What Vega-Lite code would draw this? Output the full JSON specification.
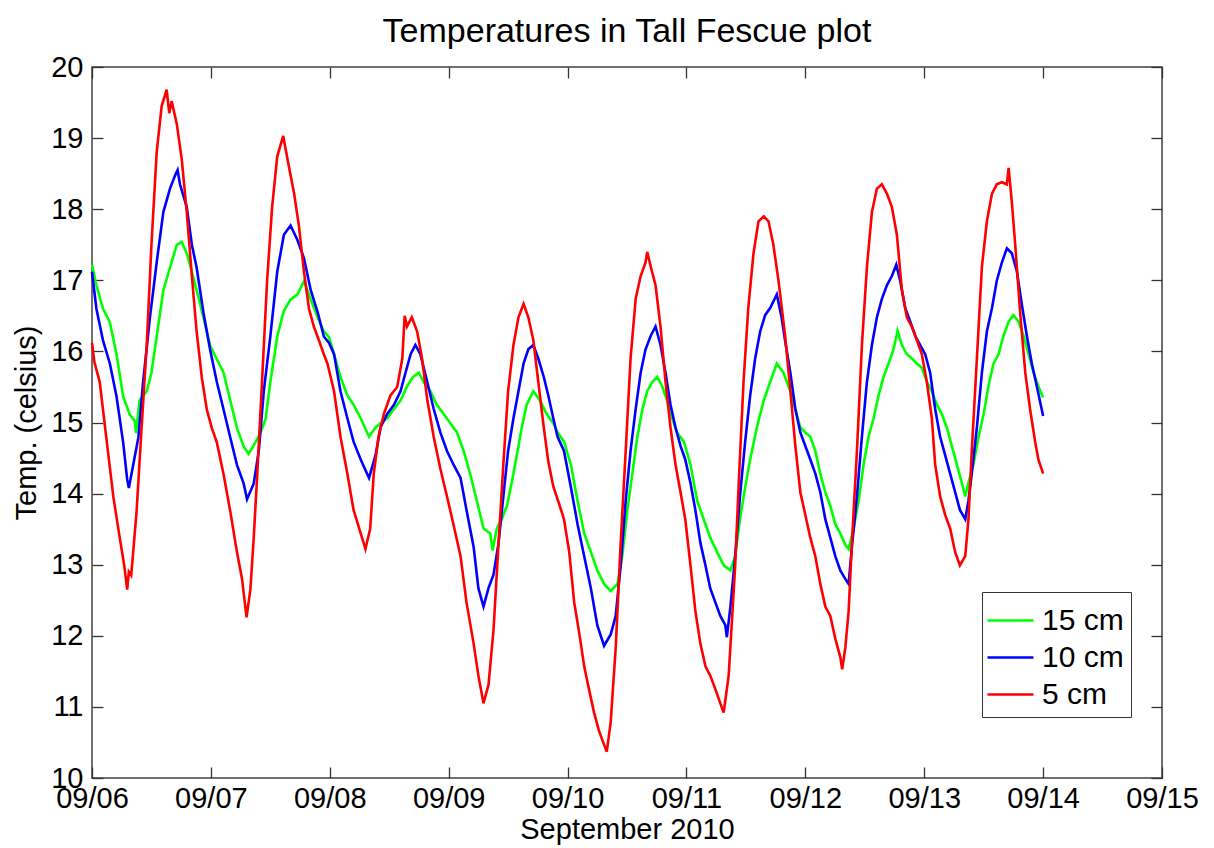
{
  "$schema": "https://vega.github.io/schema/vega-lite/v6.json",
  "width": 1070,
  "height": 711,
  "autosize": "none",
  "padding": {"left": 92, "top": 67, "right": 52, "bottom": 70},
  "background": "white",
  "config": {
    "font": "Liberation Sans",
    "view": {"stroke": "#404040", "strokeWidth": 1.5}
  },
  "title": {
    "text": "Temperatures in Tall Fescue plot",
    "font": "Liberation Sans",
    "fontSize": 34,
    "fontWeight": "normal",
    "color": "black",
    "anchor": "middle",
    "offset": 4
  },
  "data": {
    "values": [
      {"day": 6.000, "depth": "15 cm", "temp": 17.22}, {"day": 6.037, "depth": "15 cm", "temp": 16.93}, {"day": 6.093, "depth": "15 cm", "temp": 16.60},
      {"day": 6.150, "depth": "15 cm", "temp": 16.41}, {"day": 6.206, "depth": "15 cm", "temp": 15.96}, {"day": 6.262, "depth": "15 cm", "temp": 15.37},
      {"day": 6.318, "depth": "15 cm", "temp": 15.11}, {"day": 6.360, "depth": "15 cm", "temp": 15.02}, {"day": 6.370, "depth": "15 cm", "temp": 14.85},
      {"day": 6.400, "depth": "15 cm", "temp": 15.31}, {"day": 6.460, "depth": "15 cm", "temp": 15.44}, {"day": 6.500, "depth": "15 cm", "temp": 15.70},
      {"day": 6.544, "depth": "15 cm", "temp": 16.21}, {"day": 6.600, "depth": "15 cm", "temp": 16.86}, {"day": 6.656, "depth": "15 cm", "temp": 17.18},
      {"day": 6.713, "depth": "15 cm", "temp": 17.50}, {"day": 6.755, "depth": "15 cm", "temp": 17.54}, {"day": 6.797, "depth": "15 cm", "temp": 17.38},
      {"day": 6.840, "depth": "15 cm", "temp": 17.12}, {"day": 6.880, "depth": "15 cm", "temp": 16.86}, {"day": 6.938, "depth": "15 cm", "temp": 16.47},
      {"day": 6.994, "depth": "15 cm", "temp": 16.08}, {"day": 7.050, "depth": "15 cm", "temp": 15.89}, {"day": 7.107, "depth": "15 cm", "temp": 15.70},
      {"day": 7.163, "depth": "15 cm", "temp": 15.31}, {"day": 7.220, "depth": "15 cm", "temp": 14.92}, {"day": 7.276, "depth": "15 cm", "temp": 14.66},
      {"day": 7.318, "depth": "15 cm", "temp": 14.56}, {"day": 7.374, "depth": "15 cm", "temp": 14.72}, {"day": 7.416, "depth": "15 cm", "temp": 14.85},
      {"day": 7.460, "depth": "15 cm", "temp": 15.05}, {"day": 7.500, "depth": "15 cm", "temp": 15.57}, {"day": 7.558, "depth": "15 cm", "temp": 16.21},
      {"day": 7.614, "depth": "15 cm", "temp": 16.57}, {"day": 7.670, "depth": "15 cm", "temp": 16.73}, {"day": 7.727, "depth": "15 cm", "temp": 16.80},
      {"day": 7.783, "depth": "15 cm", "temp": 16.99}, {"day": 7.840, "depth": "15 cm", "temp": 16.73}, {"day": 7.900, "depth": "15 cm", "temp": 16.47},
      {"day": 7.950, "depth": "15 cm", "temp": 16.28}, {"day": 7.994, "depth": "15 cm", "temp": 16.20}, {"day": 8.036, "depth": "15 cm", "temp": 15.96},
      {"day": 8.090, "depth": "15 cm", "temp": 15.64}, {"day": 8.148, "depth": "15 cm", "temp": 15.38}, {"day": 8.200, "depth": "15 cm", "temp": 15.25},
      {"day": 8.260, "depth": "15 cm", "temp": 15.06}, {"day": 8.330, "depth": "15 cm", "temp": 14.80}, {"day": 8.385, "depth": "15 cm", "temp": 14.93},
      {"day": 8.427, "depth": "15 cm", "temp": 14.99}, {"day": 8.483, "depth": "15 cm", "temp": 15.06}, {"day": 8.540, "depth": "15 cm", "temp": 15.19},
      {"day": 8.595, "depth": "15 cm", "temp": 15.31}, {"day": 8.650, "depth": "15 cm", "temp": 15.51}, {"day": 8.700, "depth": "15 cm", "temp": 15.64},
      {"day": 8.750, "depth": "15 cm", "temp": 15.70}, {"day": 8.790, "depth": "15 cm", "temp": 15.57}, {"day": 8.846, "depth": "15 cm", "temp": 15.44},
      {"day": 8.900, "depth": "15 cm", "temp": 15.25}, {"day": 8.958, "depth": "15 cm", "temp": 15.12}, {"day": 9.014, "depth": "15 cm", "temp": 14.99},
      {"day": 9.070, "depth": "15 cm", "temp": 14.86}, {"day": 9.126, "depth": "15 cm", "temp": 14.60}, {"day": 9.180, "depth": "15 cm", "temp": 14.28},
      {"day": 9.237, "depth": "15 cm", "temp": 13.90}, {"day": 9.293, "depth": "15 cm", "temp": 13.51}, {"day": 9.350, "depth": "15 cm", "temp": 13.44},
      {"day": 9.370, "depth": "15 cm", "temp": 13.20}, {"day": 9.405, "depth": "15 cm", "temp": 13.51}, {"day": 9.447, "depth": "15 cm", "temp": 13.64},
      {"day": 9.490, "depth": "15 cm", "temp": 13.83}, {"day": 9.530, "depth": "15 cm", "temp": 14.15}, {"day": 9.573, "depth": "15 cm", "temp": 14.54},
      {"day": 9.615, "depth": "15 cm", "temp": 14.93}, {"day": 9.656, "depth": "15 cm", "temp": 15.25}, {"day": 9.712, "depth": "15 cm", "temp": 15.44},
      {"day": 9.768, "depth": "15 cm", "temp": 15.31}, {"day": 9.824, "depth": "15 cm", "temp": 15.12}, {"day": 9.880, "depth": "15 cm", "temp": 14.99},
      {"day": 9.916, "depth": "15 cm", "temp": 14.86}, {"day": 9.970, "depth": "15 cm", "temp": 14.73}, {"day": 10.028, "depth": "15 cm", "temp": 14.41},
      {"day": 10.084, "depth": "15 cm", "temp": 13.90}, {"day": 10.140, "depth": "15 cm", "temp": 13.44}, {"day": 10.196, "depth": "15 cm", "temp": 13.18},
      {"day": 10.250, "depth": "15 cm", "temp": 12.92}, {"day": 10.307, "depth": "15 cm", "temp": 12.73}, {"day": 10.363, "depth": "15 cm", "temp": 12.63},
      {"day": 10.420, "depth": "15 cm", "temp": 12.73}, {"day": 10.460, "depth": "15 cm", "temp": 13.12}, {"day": 10.503, "depth": "15 cm", "temp": 13.77},
      {"day": 10.545, "depth": "15 cm", "temp": 14.28}, {"day": 10.587, "depth": "15 cm", "temp": 14.80}, {"day": 10.630, "depth": "15 cm", "temp": 15.19},
      {"day": 10.670, "depth": "15 cm", "temp": 15.44}, {"day": 10.712, "depth": "15 cm", "temp": 15.57}, {"day": 10.754, "depth": "15 cm", "temp": 15.64},
      {"day": 10.796, "depth": "15 cm", "temp": 15.51}, {"day": 10.838, "depth": "15 cm", "temp": 15.31}, {"day": 10.880, "depth": "15 cm", "temp": 15.06},
      {"day": 10.920, "depth": "15 cm", "temp": 14.86}, {"day": 10.978, "depth": "15 cm", "temp": 14.73}, {"day": 11.034, "depth": "15 cm", "temp": 14.41},
      {"day": 11.090, "depth": "15 cm", "temp": 13.90}, {"day": 11.145, "depth": "15 cm", "temp": 13.64}, {"day": 11.200, "depth": "15 cm", "temp": 13.38},
      {"day": 11.257, "depth": "15 cm", "temp": 13.18}, {"day": 11.313, "depth": "15 cm", "temp": 12.99}, {"day": 11.370, "depth": "15 cm", "temp": 12.92},
      {"day": 11.410, "depth": "15 cm", "temp": 13.12}, {"day": 11.450, "depth": "15 cm", "temp": 13.64}, {"day": 11.494, "depth": "15 cm", "temp": 14.09},
      {"day": 11.536, "depth": "15 cm", "temp": 14.48}, {"day": 11.592, "depth": "15 cm", "temp": 14.93}, {"day": 11.650, "depth": "15 cm", "temp": 15.31},
      {"day": 11.704, "depth": "15 cm", "temp": 15.57}, {"day": 11.760, "depth": "15 cm", "temp": 15.83}, {"day": 11.816, "depth": "15 cm", "temp": 15.70},
      {"day": 11.874, "depth": "15 cm", "temp": 15.44}, {"day": 11.916, "depth": "15 cm", "temp": 15.19}, {"day": 11.958, "depth": "15 cm", "temp": 14.93},
      {"day": 12.000, "depth": "15 cm", "temp": 14.86}, {"day": 12.042, "depth": "15 cm", "temp": 14.80}, {"day": 12.084, "depth": "15 cm", "temp": 14.60},
      {"day": 12.126, "depth": "15 cm", "temp": 14.28}, {"day": 12.168, "depth": "15 cm", "temp": 14.02}, {"day": 12.210, "depth": "15 cm", "temp": 13.83},
      {"day": 12.252, "depth": "15 cm", "temp": 13.57}, {"day": 12.294, "depth": "15 cm", "temp": 13.44}, {"day": 12.336, "depth": "15 cm", "temp": 13.28},
      {"day": 12.364, "depth": "15 cm", "temp": 13.22}, {"day": 12.406, "depth": "15 cm", "temp": 13.51}, {"day": 12.448, "depth": "15 cm", "temp": 13.90},
      {"day": 12.490, "depth": "15 cm", "temp": 14.41}, {"day": 12.532, "depth": "15 cm", "temp": 14.80}, {"day": 12.574, "depth": "15 cm", "temp": 15.06},
      {"day": 12.616, "depth": "15 cm", "temp": 15.38}, {"day": 12.658, "depth": "15 cm", "temp": 15.64}, {"day": 12.700, "depth": "15 cm", "temp": 15.83},
      {"day": 12.742, "depth": "15 cm", "temp": 16.03}, {"day": 12.776, "depth": "15 cm", "temp": 16.29}, {"day": 12.812, "depth": "15 cm", "temp": 16.09},
      {"day": 12.854, "depth": "15 cm", "temp": 15.96}, {"day": 12.896, "depth": "15 cm", "temp": 15.90}, {"day": 12.938, "depth": "15 cm", "temp": 15.83},
      {"day": 12.980, "depth": "15 cm", "temp": 15.77}, {"day": 13.022, "depth": "15 cm", "temp": 15.57}, {"day": 13.064, "depth": "15 cm", "temp": 15.44},
      {"day": 13.106, "depth": "15 cm", "temp": 15.25}, {"day": 13.148, "depth": "15 cm", "temp": 15.12}, {"day": 13.190, "depth": "15 cm", "temp": 14.93},
      {"day": 13.232, "depth": "15 cm", "temp": 14.67}, {"day": 13.274, "depth": "15 cm", "temp": 14.41}, {"day": 13.316, "depth": "15 cm", "temp": 14.15},
      {"day": 13.345, "depth": "15 cm", "temp": 13.96}, {"day": 13.372, "depth": "15 cm", "temp": 14.15}, {"day": 13.414, "depth": "15 cm", "temp": 14.41},
      {"day": 13.457, "depth": "15 cm", "temp": 14.80}, {"day": 13.500, "depth": "15 cm", "temp": 15.12}, {"day": 13.540, "depth": "15 cm", "temp": 15.51},
      {"day": 13.583, "depth": "15 cm", "temp": 15.83}, {"day": 13.625, "depth": "15 cm", "temp": 15.96}, {"day": 13.667, "depth": "15 cm", "temp": 16.22},
      {"day": 13.710, "depth": "15 cm", "temp": 16.42}, {"day": 13.750, "depth": "15 cm", "temp": 16.51}, {"day": 13.793, "depth": "15 cm", "temp": 16.42},
      {"day": 13.835, "depth": "15 cm", "temp": 16.22}, {"day": 13.877, "depth": "15 cm", "temp": 15.96}, {"day": 13.920, "depth": "15 cm", "temp": 15.70},
      {"day": 13.960, "depth": "15 cm", "temp": 15.51}, {"day": 14.000, "depth": "15 cm", "temp": 15.35},

      {"day": 6.000, "depth": "10 cm", "temp": 17.12}, {"day": 6.037, "depth": "10 cm", "temp": 16.60}, {"day": 6.093, "depth": "10 cm", "temp": 16.15},
      {"day": 6.150, "depth": "10 cm", "temp": 15.83}, {"day": 6.206, "depth": "10 cm", "temp": 15.37}, {"day": 6.262, "depth": "10 cm", "temp": 14.72},
      {"day": 6.296, "depth": "10 cm", "temp": 14.20}, {"day": 6.310, "depth": "10 cm", "temp": 14.08}, {"day": 6.346, "depth": "10 cm", "temp": 14.40},
      {"day": 6.390, "depth": "10 cm", "temp": 14.79}, {"day": 6.430, "depth": "10 cm", "temp": 15.57}, {"day": 6.487, "depth": "10 cm", "temp": 16.47},
      {"day": 6.544, "depth": "10 cm", "temp": 17.25}, {"day": 6.600, "depth": "10 cm", "temp": 17.96}, {"day": 6.656, "depth": "10 cm", "temp": 18.29},
      {"day": 6.700, "depth": "10 cm", "temp": 18.48}, {"day": 6.720, "depth": "10 cm", "temp": 18.55}, {"day": 6.740, "depth": "10 cm", "temp": 18.35},
      {"day": 6.797, "depth": "10 cm", "temp": 18.03}, {"day": 6.840, "depth": "10 cm", "temp": 17.50}, {"day": 6.880, "depth": "10 cm", "temp": 17.18},
      {"day": 6.938, "depth": "10 cm", "temp": 16.54}, {"day": 6.994, "depth": "10 cm", "temp": 16.02}, {"day": 7.050, "depth": "10 cm", "temp": 15.57},
      {"day": 7.107, "depth": "10 cm", "temp": 15.18}, {"day": 7.163, "depth": "10 cm", "temp": 14.79}, {"day": 7.220, "depth": "10 cm", "temp": 14.40},
      {"day": 7.276, "depth": "10 cm", "temp": 14.14}, {"day": 7.304, "depth": "10 cm", "temp": 13.92}, {"day": 7.360, "depth": "10 cm", "temp": 14.14},
      {"day": 7.403, "depth": "10 cm", "temp": 14.60}, {"day": 7.445, "depth": "10 cm", "temp": 15.44}, {"day": 7.500, "depth": "10 cm", "temp": 16.21},
      {"day": 7.558, "depth": "10 cm", "temp": 17.12}, {"day": 7.614, "depth": "10 cm", "temp": 17.64}, {"day": 7.670, "depth": "10 cm", "temp": 17.77},
      {"day": 7.727, "depth": "10 cm", "temp": 17.57}, {"day": 7.783, "depth": "10 cm", "temp": 17.31}, {"day": 7.840, "depth": "10 cm", "temp": 16.86},
      {"day": 7.900, "depth": "10 cm", "temp": 16.54}, {"day": 7.950, "depth": "10 cm", "temp": 16.21}, {"day": 7.994, "depth": "10 cm", "temp": 16.12},
      {"day": 8.036, "depth": "10 cm", "temp": 15.96}, {"day": 8.090, "depth": "10 cm", "temp": 15.44}, {"day": 8.148, "depth": "10 cm", "temp": 15.06},
      {"day": 8.200, "depth": "10 cm", "temp": 14.73}, {"day": 8.260, "depth": "10 cm", "temp": 14.48}, {"day": 8.330, "depth": "10 cm", "temp": 14.22},
      {"day": 8.385, "depth": "10 cm", "temp": 14.54}, {"day": 8.427, "depth": "10 cm", "temp": 14.93}, {"day": 8.483, "depth": "10 cm", "temp": 15.12},
      {"day": 8.540, "depth": "10 cm", "temp": 15.25}, {"day": 8.595, "depth": "10 cm", "temp": 15.44}, {"day": 8.637, "depth": "10 cm", "temp": 15.70},
      {"day": 8.680, "depth": "10 cm", "temp": 15.96}, {"day": 8.720, "depth": "10 cm", "temp": 16.09}, {"day": 8.762, "depth": "10 cm", "temp": 15.96},
      {"day": 8.820, "depth": "10 cm", "temp": 15.57}, {"day": 8.874, "depth": "10 cm", "temp": 15.19}, {"day": 8.930, "depth": "10 cm", "temp": 14.86},
      {"day": 8.986, "depth": "10 cm", "temp": 14.60}, {"day": 9.040, "depth": "10 cm", "temp": 14.41}, {"day": 9.100, "depth": "10 cm", "temp": 14.22},
      {"day": 9.150, "depth": "10 cm", "temp": 13.77}, {"day": 9.210, "depth": "10 cm", "temp": 13.25}, {"day": 9.250, "depth": "10 cm", "temp": 12.67},
      {"day": 9.293, "depth": "10 cm", "temp": 12.41}, {"day": 9.335, "depth": "10 cm", "temp": 12.67}, {"day": 9.377, "depth": "10 cm", "temp": 12.86},
      {"day": 9.420, "depth": "10 cm", "temp": 13.31}, {"day": 9.460, "depth": "10 cm", "temp": 13.96}, {"day": 9.500, "depth": "10 cm", "temp": 14.60},
      {"day": 9.545, "depth": "10 cm", "temp": 15.06}, {"day": 9.587, "depth": "10 cm", "temp": 15.44}, {"day": 9.630, "depth": "10 cm", "temp": 15.83},
      {"day": 9.670, "depth": "10 cm", "temp": 16.03}, {"day": 9.712, "depth": "10 cm", "temp": 16.09}, {"day": 9.754, "depth": "10 cm", "temp": 15.90},
      {"day": 9.800, "depth": "10 cm", "temp": 15.64}, {"day": 9.838, "depth": "10 cm", "temp": 15.38}, {"day": 9.880, "depth": "10 cm", "temp": 15.06},
      {"day": 9.916, "depth": "10 cm", "temp": 14.80}, {"day": 9.970, "depth": "10 cm", "temp": 14.60}, {"day": 10.028, "depth": "10 cm", "temp": 14.09},
      {"day": 10.084, "depth": "10 cm", "temp": 13.57}, {"day": 10.140, "depth": "10 cm", "temp": 13.12}, {"day": 10.196, "depth": "10 cm", "temp": 12.67},
      {"day": 10.250, "depth": "10 cm", "temp": 12.15}, {"day": 10.307, "depth": "10 cm", "temp": 11.86}, {"day": 10.363, "depth": "10 cm", "temp": 12.02},
      {"day": 10.405, "depth": "10 cm", "temp": 12.28}, {"day": 10.447, "depth": "10 cm", "temp": 12.99}, {"day": 10.489, "depth": "10 cm", "temp": 13.90},
      {"day": 10.530, "depth": "10 cm", "temp": 14.60}, {"day": 10.573, "depth": "10 cm", "temp": 15.19}, {"day": 10.615, "depth": "10 cm", "temp": 15.70},
      {"day": 10.656, "depth": "10 cm", "temp": 16.03}, {"day": 10.700, "depth": "10 cm", "temp": 16.22}, {"day": 10.740, "depth": "10 cm", "temp": 16.35},
      {"day": 10.782, "depth": "10 cm", "temp": 16.09}, {"day": 10.824, "depth": "10 cm", "temp": 15.70}, {"day": 10.866, "depth": "10 cm", "temp": 15.25},
      {"day": 10.908, "depth": "10 cm", "temp": 14.93}, {"day": 10.950, "depth": "10 cm", "temp": 14.67}, {"day": 10.990, "depth": "10 cm", "temp": 14.48},
      {"day": 11.034, "depth": "10 cm", "temp": 14.15}, {"day": 11.075, "depth": "10 cm", "temp": 13.77}, {"day": 11.117, "depth": "10 cm", "temp": 13.31},
      {"day": 11.160, "depth": "10 cm", "temp": 12.99}, {"day": 11.200, "depth": "10 cm", "temp": 12.67}, {"day": 11.243, "depth": "10 cm", "temp": 12.47},
      {"day": 11.285, "depth": "10 cm", "temp": 12.28}, {"day": 11.327, "depth": "10 cm", "temp": 12.15}, {"day": 11.340, "depth": "10 cm", "temp": 11.98},
      {"day": 11.370, "depth": "10 cm", "temp": 12.41}, {"day": 11.410, "depth": "10 cm", "temp": 13.12}, {"day": 11.450, "depth": "10 cm", "temp": 13.96},
      {"day": 11.494, "depth": "10 cm", "temp": 14.73}, {"day": 11.536, "depth": "10 cm", "temp": 15.38}, {"day": 11.578, "depth": "10 cm", "temp": 15.90},
      {"day": 11.620, "depth": "10 cm", "temp": 16.28}, {"day": 11.662, "depth": "10 cm", "temp": 16.51}, {"day": 11.704, "depth": "10 cm", "temp": 16.61},
      {"day": 11.760, "depth": "10 cm", "temp": 16.80}, {"day": 11.800, "depth": "10 cm", "temp": 16.48}, {"day": 11.830, "depth": "10 cm", "temp": 16.15},
      {"day": 11.874, "depth": "10 cm", "temp": 15.70}, {"day": 11.916, "depth": "10 cm", "temp": 15.19}, {"day": 11.958, "depth": "10 cm", "temp": 14.86},
      {"day": 12.000, "depth": "10 cm", "temp": 14.67}, {"day": 12.042, "depth": "10 cm", "temp": 14.48}, {"day": 12.084, "depth": "10 cm", "temp": 14.28},
      {"day": 12.126, "depth": "10 cm", "temp": 14.02}, {"day": 12.168, "depth": "10 cm", "temp": 13.64}, {"day": 12.210, "depth": "10 cm", "temp": 13.38},
      {"day": 12.252, "depth": "10 cm", "temp": 13.12}, {"day": 12.294, "depth": "10 cm", "temp": 12.92}, {"day": 12.336, "depth": "10 cm", "temp": 12.80},
      {"day": 12.364, "depth": "10 cm", "temp": 12.73}, {"day": 12.392, "depth": "10 cm", "temp": 13.25}, {"day": 12.434, "depth": "10 cm", "temp": 13.96},
      {"day": 12.476, "depth": "10 cm", "temp": 14.80}, {"day": 12.518, "depth": "10 cm", "temp": 15.57}, {"day": 12.560, "depth": "10 cm", "temp": 16.09},
      {"day": 12.602, "depth": "10 cm", "temp": 16.48}, {"day": 12.644, "depth": "10 cm", "temp": 16.74}, {"day": 12.686, "depth": "10 cm", "temp": 16.93},
      {"day": 12.728, "depth": "10 cm", "temp": 17.06}, {"day": 12.765, "depth": "10 cm", "temp": 17.22}, {"day": 12.798, "depth": "10 cm", "temp": 16.99},
      {"day": 12.840, "depth": "10 cm", "temp": 16.61}, {"day": 12.882, "depth": "10 cm", "temp": 16.42}, {"day": 12.924, "depth": "10 cm", "temp": 16.22},
      {"day": 12.966, "depth": "10 cm", "temp": 16.09}, {"day": 13.008, "depth": "10 cm", "temp": 15.96}, {"day": 13.050, "depth": "10 cm", "temp": 15.70},
      {"day": 13.092, "depth": "10 cm", "temp": 15.19}, {"day": 13.134, "depth": "10 cm", "temp": 14.80}, {"day": 13.176, "depth": "10 cm", "temp": 14.54},
      {"day": 13.218, "depth": "10 cm", "temp": 14.28}, {"day": 13.260, "depth": "10 cm", "temp": 14.02}, {"day": 13.300, "depth": "10 cm", "temp": 13.77},
      {"day": 13.345, "depth": "10 cm", "temp": 13.64}, {"day": 13.372, "depth": "10 cm", "temp": 13.90}, {"day": 13.400, "depth": "10 cm", "temp": 14.28},
      {"day": 13.443, "depth": "10 cm", "temp": 14.93}, {"day": 13.485, "depth": "10 cm", "temp": 15.70}, {"day": 13.527, "depth": "10 cm", "temp": 16.28},
      {"day": 13.570, "depth": "10 cm", "temp": 16.61}, {"day": 13.610, "depth": "10 cm", "temp": 16.99}, {"day": 13.653, "depth": "10 cm", "temp": 17.25},
      {"day": 13.695, "depth": "10 cm", "temp": 17.45}, {"day": 13.737, "depth": "10 cm", "temp": 17.38}, {"day": 13.780, "depth": "10 cm", "temp": 17.12},
      {"day": 13.820, "depth": "10 cm", "temp": 16.67}, {"day": 13.863, "depth": "10 cm", "temp": 16.22}, {"day": 13.905, "depth": "10 cm", "temp": 15.83},
      {"day": 13.947, "depth": "10 cm", "temp": 15.51}, {"day": 14.000, "depth": "10 cm", "temp": 15.09},

      {"day": 6.000, "depth": "5 cm", "temp": 16.12}, {"day": 6.020, "depth": "5 cm", "temp": 15.85}, {"day": 6.065, "depth": "5 cm", "temp": 15.57},
      {"day": 6.120, "depth": "5 cm", "temp": 14.79}, {"day": 6.180, "depth": "5 cm", "temp": 13.95}, {"day": 6.234, "depth": "5 cm", "temp": 13.37},
      {"day": 6.270, "depth": "5 cm", "temp": 13.00}, {"day": 6.296, "depth": "5 cm", "temp": 12.65}, {"day": 6.310, "depth": "5 cm", "temp": 12.90},
      {"day": 6.330, "depth": "5 cm", "temp": 12.85}, {"day": 6.375, "depth": "5 cm", "temp": 13.75}, {"day": 6.417, "depth": "5 cm", "temp": 14.92},
      {"day": 6.460, "depth": "5 cm", "temp": 16.08}, {"day": 6.500, "depth": "5 cm", "temp": 17.50}, {"day": 6.544, "depth": "5 cm", "temp": 18.80},
      {"day": 6.586, "depth": "5 cm", "temp": 19.45}, {"day": 6.628, "depth": "5 cm", "temp": 19.68}, {"day": 6.650, "depth": "5 cm", "temp": 19.35},
      {"day": 6.670, "depth": "5 cm", "temp": 19.52}, {"day": 6.713, "depth": "5 cm", "temp": 19.20}, {"day": 6.755, "depth": "5 cm", "temp": 18.70},
      {"day": 6.797, "depth": "5 cm", "temp": 17.96}, {"day": 6.840, "depth": "5 cm", "temp": 17.06}, {"day": 6.880, "depth": "5 cm", "temp": 16.28},
      {"day": 6.924, "depth": "5 cm", "temp": 15.63}, {"day": 6.966, "depth": "5 cm", "temp": 15.18}, {"day": 7.008, "depth": "5 cm", "temp": 14.92},
      {"day": 7.050, "depth": "5 cm", "temp": 14.72}, {"day": 7.107, "depth": "5 cm", "temp": 14.27}, {"day": 7.163, "depth": "5 cm", "temp": 13.75},
      {"day": 7.220, "depth": "5 cm", "temp": 13.17}, {"day": 7.262, "depth": "5 cm", "temp": 12.80}, {"day": 7.300, "depth": "5 cm", "temp": 12.26},
      {"day": 7.332, "depth": "5 cm", "temp": 12.65}, {"day": 7.360, "depth": "5 cm", "temp": 13.37}, {"day": 7.390, "depth": "5 cm", "temp": 14.27},
      {"day": 7.430, "depth": "5 cm", "temp": 15.57}, {"day": 7.473, "depth": "5 cm", "temp": 17.00}, {"day": 7.515, "depth": "5 cm", "temp": 18.03},
      {"day": 7.558, "depth": "5 cm", "temp": 18.74}, {"day": 7.608, "depth": "5 cm", "temp": 19.03}, {"day": 7.656, "depth": "5 cm", "temp": 18.60},
      {"day": 7.700, "depth": "5 cm", "temp": 18.22}, {"day": 7.740, "depth": "5 cm", "temp": 17.77}, {"day": 7.783, "depth": "5 cm", "temp": 17.12},
      {"day": 7.825, "depth": "5 cm", "temp": 16.60}, {"day": 7.868, "depth": "5 cm", "temp": 16.34}, {"day": 7.910, "depth": "5 cm", "temp": 16.15},
      {"day": 7.950, "depth": "5 cm", "temp": 15.96}, {"day": 7.980, "depth": "5 cm", "temp": 15.83}, {"day": 8.036, "depth": "5 cm", "temp": 15.44},
      {"day": 8.090, "depth": "5 cm", "temp": 14.80}, {"day": 8.148, "depth": "5 cm", "temp": 14.28}, {"day": 8.200, "depth": "5 cm", "temp": 13.77},
      {"day": 8.260, "depth": "5 cm", "temp": 13.44}, {"day": 8.300, "depth": "5 cm", "temp": 13.22}, {"day": 8.340, "depth": "5 cm", "temp": 13.51},
      {"day": 8.370, "depth": "5 cm", "temp": 14.28}, {"day": 8.410, "depth": "5 cm", "temp": 14.80}, {"day": 8.455, "depth": "5 cm", "temp": 15.12},
      {"day": 8.510, "depth": "5 cm", "temp": 15.38}, {"day": 8.567, "depth": "5 cm", "temp": 15.50}, {"day": 8.610, "depth": "5 cm", "temp": 15.90},
      {"day": 8.630, "depth": "5 cm", "temp": 16.50}, {"day": 8.650, "depth": "5 cm", "temp": 16.35}, {"day": 8.690, "depth": "5 cm", "temp": 16.48},
      {"day": 8.735, "depth": "5 cm", "temp": 16.28}, {"day": 8.776, "depth": "5 cm", "temp": 15.90}, {"day": 8.820, "depth": "5 cm", "temp": 15.32},
      {"day": 8.874, "depth": "5 cm", "temp": 14.80}, {"day": 8.930, "depth": "5 cm", "temp": 14.35}, {"day": 8.986, "depth": "5 cm", "temp": 13.96},
      {"day": 9.040, "depth": "5 cm", "temp": 13.57}, {"day": 9.100, "depth": "5 cm", "temp": 13.12}, {"day": 9.150, "depth": "5 cm", "temp": 12.47},
      {"day": 9.210, "depth": "5 cm", "temp": 11.89}, {"day": 9.250, "depth": "5 cm", "temp": 11.44}, {"day": 9.293, "depth": "5 cm", "temp": 11.05},
      {"day": 9.335, "depth": "5 cm", "temp": 11.31}, {"day": 9.377, "depth": "5 cm", "temp": 12.08}, {"day": 9.420, "depth": "5 cm", "temp": 13.31},
      {"day": 9.460, "depth": "5 cm", "temp": 14.41}, {"day": 9.500, "depth": "5 cm", "temp": 15.44}, {"day": 9.545, "depth": "5 cm", "temp": 16.09},
      {"day": 9.587, "depth": "5 cm", "temp": 16.48}, {"day": 9.630, "depth": "5 cm", "temp": 16.67}, {"day": 9.670, "depth": "5 cm", "temp": 16.48},
      {"day": 9.712, "depth": "5 cm", "temp": 16.16}, {"day": 9.754, "depth": "5 cm", "temp": 15.57}, {"day": 9.800, "depth": "5 cm", "temp": 14.93},
      {"day": 9.838, "depth": "5 cm", "temp": 14.45}, {"day": 9.880, "depth": "5 cm", "temp": 14.10}, {"day": 9.930, "depth": "5 cm", "temp": 13.85},
      {"day": 9.970, "depth": "5 cm", "temp": 13.64}, {"day": 10.014, "depth": "5 cm", "temp": 13.18}, {"day": 10.056, "depth": "5 cm", "temp": 12.47},
      {"day": 10.100, "depth": "5 cm", "temp": 12.02}, {"day": 10.140, "depth": "5 cm", "temp": 11.57}, {"day": 10.180, "depth": "5 cm", "temp": 11.25},
      {"day": 10.223, "depth": "5 cm", "temp": 10.92}, {"day": 10.265, "depth": "5 cm", "temp": 10.66}, {"day": 10.307, "depth": "5 cm", "temp": 10.47},
      {"day": 10.330, "depth": "5 cm", "temp": 10.37}, {"day": 10.363, "depth": "5 cm", "temp": 10.79}, {"day": 10.405, "depth": "5 cm", "temp": 11.83},
      {"day": 10.447, "depth": "5 cm", "temp": 13.31}, {"day": 10.489, "depth": "5 cm", "temp": 14.60}, {"day": 10.530, "depth": "5 cm", "temp": 15.90},
      {"day": 10.573, "depth": "5 cm", "temp": 16.74}, {"day": 10.615, "depth": "5 cm", "temp": 17.06}, {"day": 10.656, "depth": "5 cm", "temp": 17.25},
      {"day": 10.670, "depth": "5 cm", "temp": 17.40}, {"day": 10.700, "depth": "5 cm", "temp": 17.19}, {"day": 10.740, "depth": "5 cm", "temp": 16.93},
      {"day": 10.782, "depth": "5 cm", "temp": 16.35}, {"day": 10.824, "depth": "5 cm", "temp": 15.57}, {"day": 10.866, "depth": "5 cm", "temp": 14.93},
      {"day": 10.908, "depth": "5 cm", "temp": 14.41}, {"day": 10.950, "depth": "5 cm", "temp": 14.02}, {"day": 10.990, "depth": "5 cm", "temp": 13.64},
      {"day": 11.034, "depth": "5 cm", "temp": 12.99}, {"day": 11.075, "depth": "5 cm", "temp": 12.35}, {"day": 11.117, "depth": "5 cm", "temp": 11.89},
      {"day": 11.160, "depth": "5 cm", "temp": 11.57}, {"day": 11.200, "depth": "5 cm", "temp": 11.44}, {"day": 11.243, "depth": "5 cm", "temp": 11.25},
      {"day": 11.285, "depth": "5 cm", "temp": 11.05}, {"day": 11.313, "depth": "5 cm", "temp": 10.92}, {"day": 11.355, "depth": "5 cm", "temp": 11.44},
      {"day": 11.383, "depth": "5 cm", "temp": 12.22}, {"day": 11.410, "depth": "5 cm", "temp": 12.99}, {"day": 11.440, "depth": "5 cm", "temp": 14.15},
      {"day": 11.480, "depth": "5 cm", "temp": 15.57}, {"day": 11.520, "depth": "5 cm", "temp": 16.61}, {"day": 11.564, "depth": "5 cm", "temp": 17.38},
      {"day": 11.606, "depth": "5 cm", "temp": 17.83}, {"day": 11.650, "depth": "5 cm", "temp": 17.90}, {"day": 11.690, "depth": "5 cm", "temp": 17.83},
      {"day": 11.730, "depth": "5 cm", "temp": 17.51}, {"day": 11.774, "depth": "5 cm", "temp": 17.00}, {"day": 11.830, "depth": "5 cm", "temp": 16.22},
      {"day": 11.874, "depth": "5 cm", "temp": 15.44}, {"day": 11.916, "depth": "5 cm", "temp": 14.67}, {"day": 11.958, "depth": "5 cm", "temp": 14.02},
      {"day": 12.000, "depth": "5 cm", "temp": 13.70}, {"day": 12.042, "depth": "5 cm", "temp": 13.38}, {"day": 12.084, "depth": "5 cm", "temp": 13.12},
      {"day": 12.126, "depth": "5 cm", "temp": 12.73}, {"day": 12.168, "depth": "5 cm", "temp": 12.41}, {"day": 12.210, "depth": "5 cm", "temp": 12.28},
      {"day": 12.252, "depth": "5 cm", "temp": 11.96}, {"day": 12.294, "depth": "5 cm", "temp": 11.70}, {"day": 12.310, "depth": "5 cm", "temp": 11.53},
      {"day": 12.336, "depth": "5 cm", "temp": 11.83}, {"day": 12.364, "depth": "5 cm", "temp": 12.34}, {"day": 12.392, "depth": "5 cm", "temp": 13.31},
      {"day": 12.434, "depth": "5 cm", "temp": 14.60}, {"day": 12.476, "depth": "5 cm", "temp": 16.09}, {"day": 12.518, "depth": "5 cm", "temp": 17.19},
      {"day": 12.560, "depth": "5 cm", "temp": 17.96}, {"day": 12.602, "depth": "5 cm", "temp": 18.29}, {"day": 12.644, "depth": "5 cm", "temp": 18.35},
      {"day": 12.686, "depth": "5 cm", "temp": 18.22}, {"day": 12.728, "depth": "5 cm", "temp": 18.03}, {"day": 12.770, "depth": "5 cm", "temp": 17.64},
      {"day": 12.812, "depth": "5 cm", "temp": 16.87}, {"day": 12.854, "depth": "5 cm", "temp": 16.48}, {"day": 12.896, "depth": "5 cm", "temp": 16.35},
      {"day": 12.938, "depth": "5 cm", "temp": 16.16}, {"day": 12.980, "depth": "5 cm", "temp": 15.96}, {"day": 13.022, "depth": "5 cm", "temp": 15.57},
      {"day": 13.064, "depth": "5 cm", "temp": 15.06}, {"day": 13.092, "depth": "5 cm", "temp": 14.41}, {"day": 13.134, "depth": "5 cm", "temp": 13.96},
      {"day": 13.176, "depth": "5 cm", "temp": 13.70}, {"day": 13.218, "depth": "5 cm", "temp": 13.51}, {"day": 13.260, "depth": "5 cm", "temp": 13.18},
      {"day": 13.300, "depth": "5 cm", "temp": 12.99}, {"day": 13.345, "depth": "5 cm", "temp": 13.12}, {"day": 13.372, "depth": "5 cm", "temp": 13.64},
      {"day": 13.400, "depth": "5 cm", "temp": 14.60}, {"day": 13.443, "depth": "5 cm", "temp": 15.90}, {"day": 13.485, "depth": "5 cm", "temp": 17.19},
      {"day": 13.527, "depth": "5 cm", "temp": 17.83}, {"day": 13.570, "depth": "5 cm", "temp": 18.22}, {"day": 13.610, "depth": "5 cm", "temp": 18.35},
      {"day": 13.653, "depth": "5 cm", "temp": 18.38}, {"day": 13.695, "depth": "5 cm", "temp": 18.35}, {"day": 13.710, "depth": "5 cm", "temp": 18.58},
      {"day": 13.737, "depth": "5 cm", "temp": 18.10}, {"day": 13.765, "depth": "5 cm", "temp": 17.51}, {"day": 13.807, "depth": "5 cm", "temp": 16.54},
      {"day": 13.850, "depth": "5 cm", "temp": 15.70}, {"day": 13.890, "depth": "5 cm", "temp": 15.19}, {"day": 13.933, "depth": "5 cm", "temp": 14.73},
      {"day": 13.960, "depth": "5 cm", "temp": 14.48}, {"day": 14.000, "depth": "5 cm", "temp": 14.28}
    ]
  },
  "resolve": {"axis": {"x": "independent", "y": "independent"}},
  "layer": [
    {
      "mark": {"type": "line", "strokeWidth": 2.6, "strokeJoin": "miter"},
      "encoding": {
        "x": {
          "field": "day",
          "type": "quantitative",
          "scale": {"domain": [6, 15], "nice": false, "zero": false},
          "axis": {
            "orient": "bottom",
            "values": [6, 7, 8, 9, 10, 11, 12, 13, 14, 15],
            "labelExpr": "'09/' + (datum.value < 10 ? '0' : '') + datum.value",
            "title": "September 2010",
            "domain": false,
            "grid": false,
            "tickSize": -11,
            "tickColor": "#333333",
            "tickWidth": 1.3,
            "labelFont": "Liberation Sans",
            "labelFontSize": 29,
            "labelColor": "black",
            "labelPadding": 17,
            "labelFlush": false,
            "labelOverlap": false,
            "titleFont": "Liberation Sans",
            "titleFontSize": 29,
            "titleFontWeight": "normal",
            "titleColor": "black",
            "titlePadding": 2
          }
        },
        "y": {
          "field": "temp",
          "type": "quantitative",
          "scale": {"domain": [10, 20], "nice": false, "zero": false},
          "axis": {
            "orient": "left",
            "values": [10, 11, 12, 13, 14, 15, 16, 17, 18, 19, 20],
            "title": "Temp. (celsius)",
            "domain": false,
            "grid": false,
            "tickSize": -11,
            "tickColor": "#333333",
            "tickWidth": 1.3,
            "labelFont": "Liberation Sans",
            "labelFontSize": 29,
            "labelColor": "black",
            "labelPadding": 20,
            "labelFlush": false,
            "labelOverlap": false,
            "titleFont": "Liberation Sans",
            "titleFontSize": 29,
            "titleFontWeight": "normal",
            "titleColor": "black",
            "titlePadding": 9
          }
        },
        "color": {
          "field": "depth",
          "type": "nominal",
          "scale": {"domain": ["15 cm", "10 cm", "5 cm"], "range": ["#00ff00", "#0000ff", "#ff0000"]},
          "legend": {
            "orient": "none",
            "legendX": 890,
            "legendY": 525,
            "title": null,
            "fillColor": "white",
            "strokeColor": "#333333",
            "padding": 7,
            "symbolType": "M-1.15,0H1.15",
            "symbolSize": 1600,
            "symbolStrokeWidth": 2.6,
            "labelFont": "Liberation Sans",
            "labelFontSize": 30,
            "labelColor": "black",
            "labelOffset": 10,
            "rowPadding": 0
          }
        }
      }
    },
    {
      "mark": {"type": "point", "opacity": 0},
      "encoding": {
        "x": {
          "field": "day",
          "type": "quantitative",
          "axis": {
            "orient": "top",
            "values": [6, 7, 8, 9, 10, 11, 12, 13, 14, 15],
            "labels": false,
            "title": null,
            "domain": false,
            "grid": false,
            "tickSize": -11,
            "tickColor": "#333333",
            "tickWidth": 1.3
          }
        },
        "y": {
          "field": "temp",
          "type": "quantitative",
          "axis": {
            "orient": "right",
            "values": [10, 11, 12, 13, 14, 15, 16, 17, 18, 19, 20],
            "labels": false,
            "title": null,
            "domain": false,
            "grid": false,
            "tickSize": -11,
            "tickColor": "#333333",
            "tickWidth": 1.3
          }
        }
      }
    }
  ]
}
